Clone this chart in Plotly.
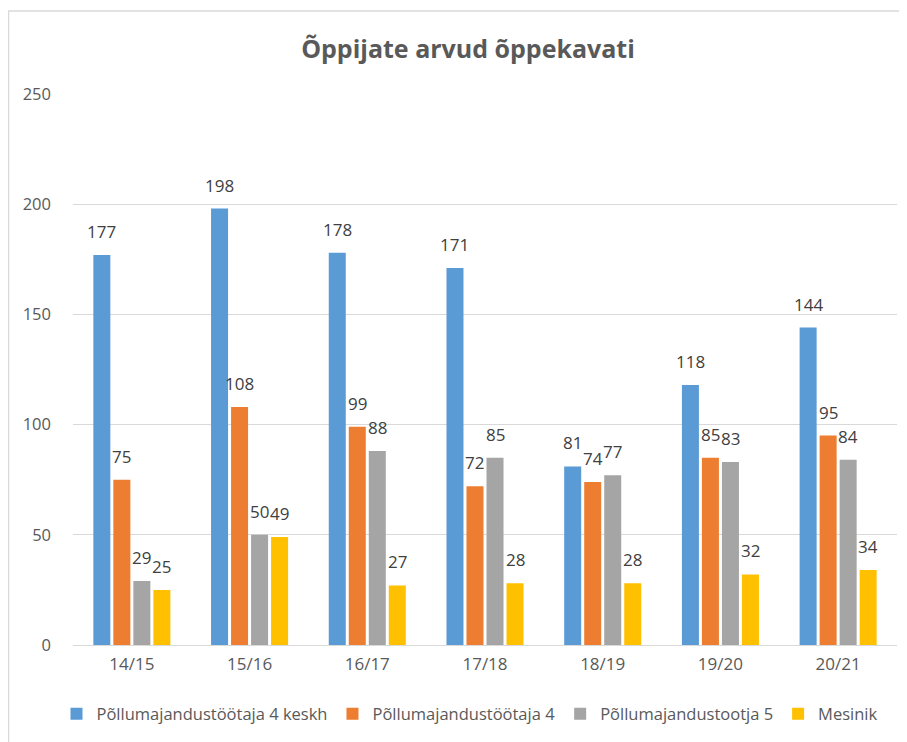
import plotly.graph_objects as go

categories = ["14/15", "15/16", "16/17", "17/18", "18/19", "19/20", "20/21"]
series_names = ["Põllumajandustöötaja 4 keskh", "Põllumajandustöötaja 4",
                "Põllumajandustootja 5", "Mesinik"]
s1 = [177, 198, 178, 171, 81, 118, 144]
s2 = [75, 108, 99, 72, 74, 85, 95]
s3 = [29, 50, 88, 85, 77, 83, 84]
s4 = [25, 49, 27, 28, 28, 32, 34]
colors = ["#5B9BD5", "#ED7D31", "#A5A5A5", "#FFC000"]
y_ticks = [0, 50, 100, 150, 200, 250]

FONT = "Open Sans"
L, T, R, B = 65, 86, 18, 105
PH = 742 - T - B
PW = 907 - L - R
BARGAP = 0.32
series = [s1, s2, s3, s4]

fig = go.Figure()
for name, vals, col in zip(series_names, series, colors):
    fig.add_trace(go.Bar(
        x=categories, y=vals, name=name, marker_color=col,
        marker_line_width=0, cliponaxis=False,
    ))

# value labels above each bar
cat_px = PW / len(categories)
slot = cat_px * (1 - BARGAP) / len(series)
annotations = []
for i, vals in enumerate(series):
    for c, v in zip(categories, vals):
        annotations.append(dict(
            x=c, y=v, xref="x", yref="y", text=str(v), showarrow=False,
            xanchor="center", yanchor="bottom",
            xshift=(i - (len(series) - 1) / 2) * slot, yshift=10,
            font=dict(family=FONT, size=17, color="#404040"),
        ))

fig.update_layout(
    width=907, height=742,
    paper_bgcolor="white", plot_bgcolor="white",
    margin=dict(l=L, r=R, t=T, b=B),
    barmode="group", bargap=BARGAP, bargroupgap=0.15,
    title=dict(text="Õppijate arvud õppekavati", x=(468 - 8) / 907, xanchor="center",
               y=1 - 41 / 742, yanchor="middle",
               font=dict(family=FONT, size=25, color="#595959", weight="bold")),
    font=dict(family=FONT, size=16, color="#595959"),
    legend=dict(orientation="h", x=(470 - 8 - L) / PW, xanchor="center",
                y=(742 - B - 706) / PH, yanchor="middle",
                font=dict(family=FONT, size=16.5, color="#595959"),
                itemwidth=30, traceorder="normal"),
    showlegend=True,
    annotations=annotations,
    xaxis=dict(showgrid=False, showline=True, linecolor="#D9D9D9", linewidth=1,
               ticks="", ticklabelstandoff=4,
               tickfont=dict(size=17, color="#595959")),
    yaxis=dict(range=[0, 250], tickvals=y_ticks, showgrid=True, gridcolor="#D9D9D9",
               gridwidth=1, zeroline=False, showline=False, ticks="",
               ticklabelstandoff=21,
               tickfont=dict(size=16.5, color="#595959")),
    shapes=[dict(type="rect", xref="paper", yref="paper",
                 x0=(0.5 - L) / PW, x1=(920 - L) / PW,
                 y0=(742 - B - 760) / PH, y1=(742 - B - 3) / PH,
                 line=dict(color="#D9D9D9", width=1.5), layer="below")],
)

fig.write_html("out.html")
